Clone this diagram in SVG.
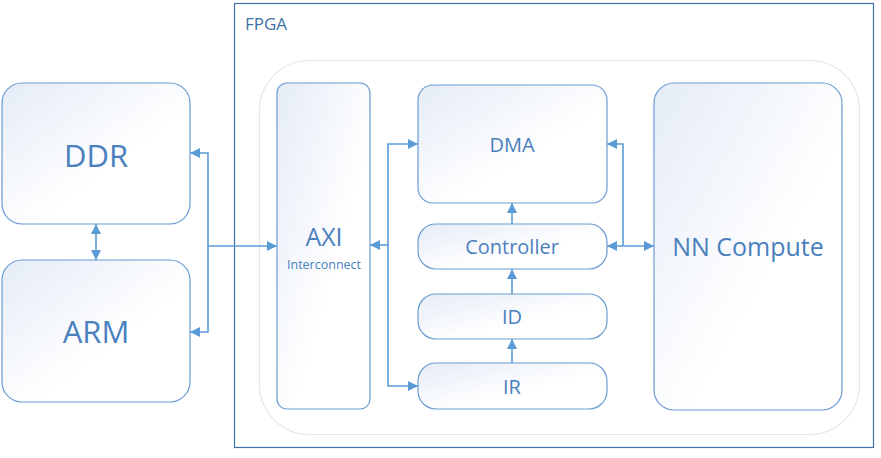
<svg xmlns="http://www.w3.org/2000/svg" width="881" height="458" viewBox="0 0 881 458">
<style>
.node{fill:url(#g);stroke:#6b9bd2;stroke-width:1.2}
.lbl{font-family:"Open Sans","Noto Sans",sans-serif;fill:#4a80bd;text-anchor:middle;dominant-baseline:central}
.con{fill:none;stroke:#5b9bd5;stroke-width:1.6}
</style>
<defs>
<linearGradient id="g" x1="0" y1="0" x2="1" y2="1">
<stop offset="0" stop-color="#e5ecf7"/>
<stop offset="0.6" stop-color="#ffffff"/>
<stop offset="1" stop-color="#ffffff"/>
</linearGradient>
<marker id="ah" viewBox="0 0 10 10" refX="10" refY="5" markerWidth="10" markerHeight="10" markerUnits="userSpaceOnUse" orient="auto-start-reverse">
<path d="M0,0 L10,5 L0,10 z" fill="#5b9bd5"/>
</marker>
</defs>
<rect width="881" height="458" fill="#ffffff"/>
<g id="fpga">
<rect x="234.5" y="3.5" width="639" height="444" fill="#ffffff" stroke="#3f73a8" stroke-width="1.2"/>
<text x="245" y="23" font-family="'Open Sans','Noto Sans',sans-serif" font-size="17" fill="#3f73a8" dominant-baseline="central">FPGA</text>
</g>
<g id="container">
<rect x="259.5" y="60.5" width="600" height="374" rx="50" fill="none" stroke="#e6e6e6" stroke-width="1.2"/>
</g>
<g id="ddr">
<rect class="node" x="2" y="83" width="188" height="141" rx="20"/>
<text class="lbl" x="96" y="155" font-size="31">DDR</text>
</g>
<g id="arm">
<rect class="node" x="2" y="260" width="188" height="142" rx="20"/>
<text class="lbl" x="96" y="331" font-size="31">ARM</text>
</g>
<g id="axi">
<rect class="node" x="277" y="83" width="93" height="326" rx="10"/>
<text class="lbl" x="324" y="236" font-size="25">AXI</text>
<text class="lbl" x="324" y="264" font-size="12.5" fill="#5b96d6">Interconnect</text>
</g>
<g id="dma">
<rect class="node" x="418" y="85" width="189" height="118" rx="15"/>
<text class="lbl" x="512" y="144" font-size="20">DMA</text>
</g>
<g id="controller">
<rect class="node" x="418" y="224" width="189" height="45" rx="18"/>
<text class="lbl" x="512" y="246" font-size="20">Controller</text>
</g>
<g id="id">
<rect class="node" x="418" y="294" width="189" height="45" rx="18"/>
<text class="lbl" x="512" y="316" font-size="20">ID</text>
</g>
<g id="ir">
<rect class="node" x="418" y="363" width="189" height="46" rx="18"/>
<text class="lbl" x="512" y="386" font-size="20">IR</text>
</g>
<g id="nn">
<rect class="node" x="654" y="83" width="188" height="327" rx="20"/>
<text class="lbl" x="748" y="246" font-size="25">NN Compute</text>
</g>
<g id="connectors">
<path class="con" d="M96,224 V260" marker-start="url(#ah)" marker-end="url(#ah)"/>
<path class="con" d="M190,153 H208 V332 H190" marker-start="url(#ah)" marker-end="url(#ah)"/>
<path class="con" d="M208,246 H277" marker-end="url(#ah)"/>
<path class="con" d="M418,144 H388 V386 H418" marker-start="url(#ah)" marker-end="url(#ah)"/>
<path class="con" d="M388,245 H370" marker-end="url(#ah)"/>
<path class="con" d="M607,144 H623 V246" marker-start="url(#ah)"/>
<path class="con" d="M607,246 H654" marker-start="url(#ah)" marker-end="url(#ah)"/>
<path class="con" d="M512,224 V203" marker-end="url(#ah)"/>
<path class="con" d="M512,294 V269" marker-end="url(#ah)"/>
<path class="con" d="M512,363 V339" marker-end="url(#ah)"/>
</g>
</svg>
